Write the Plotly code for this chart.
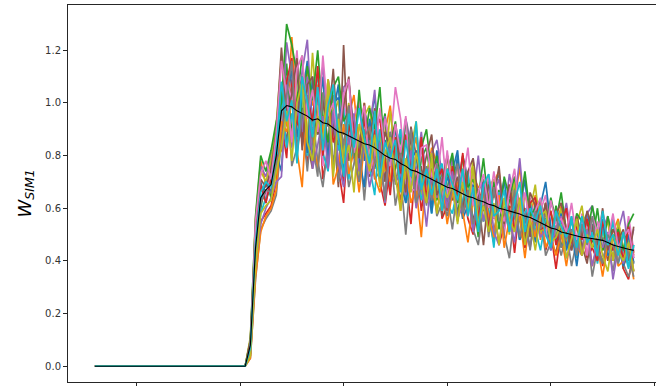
import plotly.graph_objects as go

# x positions: flat part endpoints, then one point per step
X = [-8, 21] + list(range(22, 97))

MEAN = [0.0, 0.0,
    .08, .45, .64, .67, .69, .80, .97, .99, .985, .97,
    .96, .95, .935, .94, .925, .92, .905, .89, .885, .875,
    .865, .855, .845, .84, .83, .815, .80, .79, .785, .77,
    .76, .745, .74, .73, .72, .71, .70, .69, .68, .675,
    .665, .655, .645, .64, .63, .625, .615, .61, .60, .595,
    .59, .585, .578, .57, .565, .555, .545, .535, .525, .52,
    .51, .505, .50, .495, .49, .488, .485, .48, .478, .47,
    .46, .455, .448, .444, .44]

S1 = [0, 0, .07, .50, .70, .62, .76, .84, 1.08, .97, 1.14, .85, 1.02, 1.16, .88, .95, 1.10, .75, 1.00, 1.02, .80, .91, .83, 1.01, .78, .90, 1.03, .78, .71, .89, .79, .90, .65, .81, .76, .84, .70, .61, .82, .72, .63, .74, .82, .59, .64, .74, .59, .66, .53, .68, .73, .58, .54, .64, .59, .71, .51, .62, .53, .56, .44, .60, .55, .48, .57, .45, .54, .58, .49, .41, .54, .46, .55, .48, .42, .55, .39]
S2 = [0, 0, .05, .56, .78, .69, .72, .90, 1.05, .91, 1.25, .97, .92, 1.13, .99, 1.07, .83, 1.09, .93, .73, 1.03, .95, 1.03, .83, 1.00, .78, .89, .78, .89, .99, .79, .83, .65, .78, .87, .70, .71, .83, .77, .65, .80, .69, .76, .58, .65, .72, .68, .68, .60, .70, .74, .55, .60, .62, .76, .52, .57, .65, .48, .62, .58, .52, .61, .46, .56, .45, .52, .55, .52, .47, .55, .46, .51, .56, .42, .49, .36]
S3 = [0, 0, .10, .42, .60, .71, .64, .76, .90, 1.15, .88, 1.01, 1.18, .87, .80, 1.03, .90, 1.05, .74, .94, .88, .96, .82, .70, .96, .86, .75, .87, .96, .69, .75, .87, .69, .77, .61, .79, .83, .68, .63, .73, .67, .80, .57, .72, .60, .65, .49, .71, .64, .56, .67, .52, .63, .68, .56, .45, .61, .53, .62, .55, .48, .61, .45, .53, .50, .54, .42, .55, .47, .60, .44, .49, .41, .49, .37, .50, .45]
S4 = [0, 0, .04, .36, .55, .58, .61, .70, .93, .79, 1.09, .85, .90, .77, .93, 1.06, .71, .83, .94, .75, .62, .92, .84, .70, .86, .76, .90, .70, .61, .77, .82, .67, .72, .54, .80, .59, .72, .66, .79, .56, .61, .68, .55, .69, .56, .50, .60, .70, .51, .60, .46, .54, .61, .43, .62, .49, .54, .48, .59, .44, .51, .37, .52, .46, .52, .43, .54, .41, .45, .48, .38, .50, .40, .52, .37, .33, .44]
S5 = [0, 0, .08, .53, .76, .72, .80, .86, .87, 1.23, 1.10, .96, 1.12, 1.24, .90, .99, 1.14, .92, 1.03, .82, 1.06, 1.08, .90, .84, .97, .90, 1.05, .78, .95, .81, .87, .67, .94, .85, .75, .89, .70, .81, .86, .73, .62, .79, .68, .80, .72, .63, .80, .60, .71, .66, .71, .56, .73, .62, .79, .57, .63, .55, .63, .50, .62, .57, .53, .62, .49, .57, .44, .58, .61, .49, .52, .57, .44, .52, .59, .44, .52]
S6 = [0, 0, .06, .46, .62, .66, .70, .77, .99, .85, 1.06, .92, 1.10, .85, .75, .97, 1.02, .84, .91, .68, 1.22, .78, .91, .83, 1.00, .72, .78, .86, .70, .87, .72, .63, .77, .87, .65, .76, .62, .68, .75, .57, .75, .63, .66, .59, .73, .55, .64, .46, .66, .58, .66, .54, .68, .51, .56, .60, .49, .61, .51, .62, .47, .43, .54, .51, .44, .56, .46, .39, .53, .44, .49, .40, .49, .53, .38, .43, .46]
S7 = [0, 0, .07, .48, .68, .64, .75, .83, .90, 1.09, 1.01, 1.20, .86, 1.09, .91, .99, .76, 1.09, .99, .85, 1.04, .81, .95, 1.01, .85, .73, .93, .80, .94, .84, 1.06, .94, .69, .82, .76, .83, .65, .81, .70, .87, .65, .72, .62, .73, .57, .73, .66, .61, .73, .56, .66, .50, .67, .72, .56, .58, .64, .51, .59, .65, .50, .57, .52, .59, .48, .43, .58, .52, .48, .55, .45, .57, .45, .48, .41, .57, .44]
S8 = [0, 0, .03, .33, .52, .56, .59, .65, .86, 1.10, .76, .83, .94, .74, .96, .78, .68, .85, .99, .70, .85, .68, .77, .86, .63, .86, .71, .74, .66, .83, .61, .72, .50, .74, .64, .74, .61, .75, .57, .62, .65, .52, .68, .56, .70, .52, .46, .61, .56, .47, .63, .50, .41, .58, .48, .52, .46, .55, .58, .42, .47, .50, .42, .51, .38, .48, .44, .51, .34, .45, .40, .47, .36, .48, .39, .34, .40]
S9 = [0, 0, .11, .55, .74, .70, .78, .92, 1.17, 1.01, .86, 1.11, 1.03, .86, 1.19, .93, .88, 1.09, .95, 1.01, .78, 1.00, .87, .72, .95, .99, .80, .88, .74, .97, .79, .82, .71, .83, .93, .65, .74, .81, .69, .59, .80, .73, .62, .75, .66, .78, .61, .55, .68, .71, .59, .64, .50, .71, .55, .65, .59, .69, .51, .54, .59, .49, .60, .50, .45, .54, .61, .47, .54, .44, .50, .55, .40, .55, .45, .48, .43]
S10 = [0, 0, .05, .40, .58, .64, .67, .74, 1.03, .83, .96, .86, 1.08, .80, .94, 1.12, .81, .74, .96, .82, .98, .71, .87, .82, .90, .76, .65, .90, .78, .68, .81, .90, .62, .68, .80, .63, .71, .58, .73, .77, .62, .58, .68, .62, .74, .52, .67, .55, .60, .45, .66, .60, .51, .63, .48, .58, .62, .52, .44, .56, .48, .57, .50, .44, .57, .41, .50, .47, .51, .39, .52, .43, .56, .39, .45, .37, .46]
S11 = [0, 0, .07, .44, .63, .70, .66, .81, .74, 1.06, 1.12, .87, .98, .81, 1.10, .88, .93, .80, .96, 1.07, .73, .85, .94, .79, .68, .94, .85, .71, .86, .76, .91, .70, .62, .78, .82, .67, .73, .58, .78, .62, .72, .66, .80, .56, .61, .69, .55, .70, .57, .51, .61, .71, .53, .62, .48, .55, .61, .47, .61, .70, .53, .48, .58, .44, .52, .38, .53, .47, .54, .44, .56, .42, .45, .48, .38, .50, .41]
S12 = [0, 0, .03, .34, .51, .57, .60, .67, .93, .89, 1.01, .82, .68, 1.01, .87, .75, .91, 1.03, .69, .76, .92, .73, .82, .66, .84, .90, .72, .66, .78, .70, .87, .59, .77, .62, .68, .49, .75, .68, .59, .70, .54, .66, .70, .58, .47, .64, .53, .66, .57, .49, .65, .45, .56, .52, .57, .41, .58, .49, .62, .45, .50, .42, .50, .38, .51, .46, .42, .52, .38, .46, .34, .47, .50, .38, .40, .46, .33]
S13 = [0, 0, .09, .57, .80, .74, .82, .93, 1.00, 1.30, 1.22, 1.11, .94, 1.14, 1.01, 1.20, .95, .85, 1.06, 1.10, .93, .97, .79, 1.05, .85, .98, .90, 1.06, .78, .84, .93, .76, .94, .78, .70, .83, .90, .72, .80, .66, .73, .81, .62, .80, .68, .71, .64, .79, .60, .70, .52, .72, .64, .72, .60, .74, .57, .60, .63, .52, .64, .55, .66, .51, .47, .58, .55, .49, .61, .51, .44, .57, .48, .52, .44, .54, .58]
S14 = [0, 0, .06, .47, .69, .62, .71, .79, .82, 1.08, 1.17, .93, .86, 1.02, .93, 1.14, .80, 1.03, .85, .91, .69, .99, .91, .80, .94, .75, .89, .94, .78, .65, .87, .73, .88, .77, .67, .87, .64, .75, .70, .75, .59, .76, .65, .81, .59, .67, .57, .68, .52, .68, .61, .56, .69, .51, .62, .45, .62, .64, .52, .53, .59, .46, .54, .60, .46, .53, .48, .56, .45, .40, .55, .49, .44, .51, .40, .53, .42]
S15 = [0, 0, .05, .39, .54, .60, .64, .70, .72, 1.07, .83, .98, .89, 1.10, .75, .84, .95, .75, .97, .77, .68, .85, .96, .74, .84, .68, .77, .85, .62, .85, .70, .73, .65, .82, .60, .71, .53, .73, .64, .72, .60, .74, .56, .61, .65, .51, .67, .55, .70, .51, .46, .60, .56, .47, .63, .51, .45, .58, .49, .52, .44, .53, .57, .41, .46, .49, .42, .52, .38, .48, .45, .51, .33, .45, .39, .46, .36]
S16 = [0, 0, .10, .52, .71, .68, .75, .89, 1.21, .96, 1.03, 1.17, .82, 1.07, 1.10, .88, 1.00, .91, 1.13, .84, .99, 1.10, .85, .79, .96, .86, .98, .73, .89, .83, .92, .77, .66, .91, .80, .70, .80, .88, .65, .70, .80, .66, .72, .59, .74, .79, .64, .59, .69, .64, .76, .54, .69, .58, .63, .47, .66, .61, .54, .62, .50, .58, .62, .52, .44, .57, .49, .59, .53, .46, .60, .44, .52, .48, .52, .40, .53]
S17 = [0, 0, .06, .55, .73, .78, .71, .88, 1.16, 1.03, .85, 1.13, 1.18, .94, 1.05, .89, 1.18, .95, 1.00, .86, 1.03, 1.09, .81, .90, .99, .74, .80, .98, .81, .76, .92, .81, .95, .67, .67, .83, .84, .72, .77, .62, .82, .66, .76, .70, .83, .61, .66, .73, .60, .74, .61, .55, .66, .75, .57, .66, .54, .59, .64, .49, .63, .54, .56, .51, .62, .48, .55, .42, .57, .51, .58, .48, .58, .45, .49, .52, .41]
S18 = [0, 0, .05, .43, .62, .67, .66, .77, .84, 1.03, 1.16, .80, .96, 1.03, .85, .72, 1.04, .94, .77, .96, .84, .99, .79, .70, .87, .91, .77, .82, .63, .89, .69, .81, .74, .90, .62, .68, .76, .63, .77, .64, .57, .68, .77, .58, .67, .54, .60, .68, .49, .68, .55, .59, .53, .67, .49, .58, .44, .59, .52, .58, .48, .59, .45, .49, .52, .42, .54, .46, .57, .43, .39, .50, .46, .39, .51, .42, .34]
S19 = [0, 0, .04, .38, .58, .61, .63, .74, .83, .97, .78, 1.00, 1.08, .85, .78, .95, .86, 1.06, .72, .94, .77, .84, .66, .92, .84, .74, .88, .68, .81, .87, .72, .59, .79, .66, .81, .71, .62, .79, .58, .69, .64, .69, .54, .70, .59, .76, .54, .61, .51, .62, .46, .63, .56, .51, .64, .46, .56, .44, .57, .59, .47, .49, .54, .41, .49, .56, .42, .50, .45, .52, .42, .36, .50, .44, .40, .47, .36]
S20 = [0, 0, .07, .47, .66, .70, .68, .82, 1.08, .93, 1.01, .77, 1.10, 1.00, .87, 1.06, .82, .99, 1.07, .87, .72, .96, .83, .98, .87, .77, .97, .72, .85, .79, .86, .66, .86, .72, .93, .67, .75, .65, .75, .59, .75, .69, .63, .75, .57, .68, .51, .69, .73, .57, .59, .67, .51, .62, .70, .51, .60, .55, .61, .50, .45, .59, .53, .49, .55, .45, .57, .47, .50, .42, .59, .46, .50, .42, .51, .38, .46]

SERIES = [S1, S2, S3, S4, S5, S6, S7, S8, S9, S10,
          S11, S12, S13, S14, S15, S16, S17, S18, S19, S20]
for s in SERIES + [MEAN]:
    assert len(s) == len(X), len(s)

COLORS = ['#1f77b4', '#ff7f0e', '#2ca02c', '#d62728', '#9467bd',
          '#8c564b', '#e377c2', '#7f7f7f', '#bcbd22', '#17becf']

Y_TICKS = [0.0, 0.2, 0.4, 0.6, 0.8, 1.0, 1.2]
Y_TICK_TEXT = ['0.0', '0.2', '0.4', '0.6', '0.8', '1.0', '1.2']
X_TICKS = [0, 20, 40, 60, 80, 100]

fig = go.Figure()
for i, s in enumerate(SERIES):
    fig.add_trace(go.Scatter(x=X, y=s, mode='lines',
                             line=dict(color=COLORS[i % 10], width=1.7),
                             showlegend=False, hoverinfo='skip'))
fig.add_trace(go.Scatter(x=X, y=MEAN, mode='lines',
                         line=dict(color='black', width=1.1),
                         showlegend=False, hoverinfo='skip'))

axis_color = '#262626'
fig.update_layout(
    width=656, height=386,
    margin=dict(l=68, r=0, t=5, b=4, pad=0),
    paper_bgcolor='white', plot_bgcolor='white',
    font=dict(family='DejaVu Sans', size=10, color='#333333'),
    xaxis=dict(range=[-13.2, 100.3], tickvals=X_TICKS, showticklabels=False,
               ticks='outside', ticklen=4, tickwidth=1, tickcolor=axis_color,
               showline=True, linecolor=axis_color, linewidth=1, mirror=True,
               showgrid=False, zeroline=False),
    yaxis=dict(range=[-0.06, 1.372], tickvals=Y_TICKS, ticktext=Y_TICK_TEXT,
               ticks='outside', ticklen=4, tickwidth=1, tickcolor=axis_color,
               showline=True, linecolor=axis_color, linewidth=1, mirror=False,
               showgrid=False, zeroline=False,
               tickfont=dict(family='DejaVu Sans', size=10, color='#333333')),
    annotations=[dict(text='<i>W</i><sub><i>SIM1</i></sub>', xref='paper', yref='paper',
                      x=-0.073, y=0.5, xanchor='center', yanchor='middle',
                      textangle=-90, showarrow=False,
                      font=dict(family='DejaVu Sans', size=18, color='black'))],
)

fig.write_html('out.html')
